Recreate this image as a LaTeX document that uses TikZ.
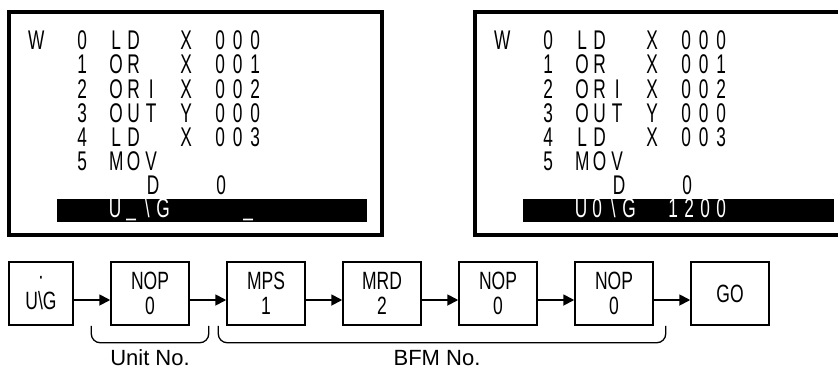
\documentclass[tikz,border=0pt]{standalone}
\usepackage{fontspec}
\setmainfont{Liberation Sans}
\newfontfamily\condfont[FakeStretch=0.7]{Liberation Sans}
\newfontfamily\scrfont[FakeStretch=0.64]{Liberation Sans}
\usetikzlibrary{
  arrows.meta,
  positioning
}
\makeatletter
\newcommand\cells[2][17.5pt]{\@tfor\ch:=#2\do{\makebox[#1]{\ch}}}
\makeatother

\begin{document}
\begin{tikzpicture}[x=1pt, y=-1pt,
  scr/.style={anchor=base west, inner sep=0pt, font=\scrfont\fontsize{27}{27}\selectfont},
  fbox/.style={draw, line width=1.5pt, minimum width=78pt, minimum height=63pt, inner sep=0pt, align=center, font=\condfont\fontsize{25}{25}\selectfont},
  arr/.style={-{Triangle[length=11pt,width=11pt]}, line width=1.8pt},
  bracket/.style={line width=1.3pt, rounded corners=9pt}]
  \useasboundingbox (0,0) rectangle (838,368);
  \draw[line width=3.5pt] (9,12) rectangle (382,235);
  \draw[line width=3.5pt] (845,12) -- (475,12) -- (475,235) -- (845,235);
  \fill (57,199) rectangle (367,222);
  \fill (523,199) rectangle (834,222);
  \foreach \dx in {0,466} {
    \begin{scope}[xshift=\dx pt]
      \node[scr] (w\dx) at (27.25,49) {\cells{W}};
      \foreach \y/\n/\op/\reg/\num in {49/0/LD/X/000, 73/1/OR/X/001, 98/2/ORI/X/002, 122/3/OUT/Y/000, 146/4/LD/X/003} {
        \node[scr] (step\dx-\n) at (73.25,\y) {\cells{\n}};
        \node[scr] (op\dx-\n) at (107.25,\y) {\expandafter\cells\expandafter{\op}};
        \node[scr] (reg\dx-\n) at (177.25,\y) {\cells{\reg}};
        \node[scr] (num\dx-\n) at (211.25,\y) {\expandafter\cells\expandafter{\num}};
      }
      \node[scr] (step\dx-5) at (73.25,170) {\cells{5}};
      \node[scr] (op\dx-5) at (107.25,170) {\cells{MOV}};
      \node[scr] (dev\dx) at (144.25,194) {\cells{D}};
      \node[scr] (dnum\dx) at (212.25,194) {\cells{0}};
    \end{scope}
  }
  \node[scr, text=white] (inleft) at (107,217) {\cells[16pt]{U{\raisebox{2pt}{\_}}\textbackslash G}};
  \node[scr, text=white] (cursor) at (240,217) {\cells[16pt]{{\raisebox{2pt}{\_}}}};
  \node[scr, text=white] (inright) at (573,217) {\cells[16pt]{U0\textbackslash G}};
  \node[scr, text=white] (value) at (665,217) {\cells[16pt]{1200}};

  \node[fbox, minimum width=64pt] (uig) at (41,293.5) {\textperiodcentered\\U\textbackslash G};
  \node[fbox, right=36.5pt of uig] (nop1) {NOP\\0};
  \node[fbox, right=36.5pt of nop1] (mps) {MPS\\1};
  \node[fbox, right=36.5pt of mps] (mrd) {MRD\\2};
  \node[fbox, right=36.5pt of mrd] (nop2) {NOP\\0};
  \node[fbox, right=36.5pt of nop2] (nop3) {NOP\\0};
  \node[fbox, right=36.5pt of nop3] (go) {GO};
  \foreach \a/\b in {uig/nop1, nop1/mps, mps/mrd, mrd/nop2, nop2/nop3, nop3/go}
    \draw[arr] ([yshift=-6.5pt]\a.east) -- ([yshift=-6.5pt]\b.west);
  \draw[bracket] ([xshift=-19pt]nop1.south west) -- ++(0,17) -| ([xshift=19pt]nop1.south east);
  \draw[bracket] ([xshift=-8pt]mps.south west) -- ++(0,17) -| ([xshift=12pt]nop3.south east);
  \node[anchor=base, font=\fontsize{22}{22}\selectfont] (unitno) at (150,365) {Unit No.};
  \node[anchor=base, font=\fontsize{22}{22}\selectfont] (bfmno) at (437,365) {BFM No.};
\end{tikzpicture}
\end{document}
